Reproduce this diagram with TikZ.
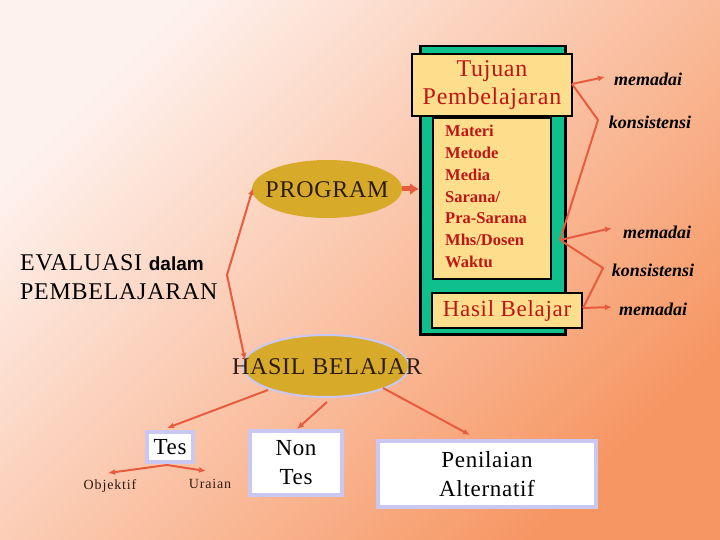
\documentclass[tikz,border=0pt]{standalone}
\usepackage{fontspec}
\setmainfont{Liberation Serif}
\setsansfont{Liberation Sans}
\newfontfamily\tms[LetterSpace=3]{Liberation Serif}
\newfontfamily\tmsw[LetterSpace=6]{Liberation Serif}
\usetikzlibrary{shapes.geometric,arrows.meta}
\definecolor{bglight}{RGB}{254,242,238}
\definecolor{bgdark}{RGB}{246,150,98}
\definecolor{boxgreen}{RGB}{16,192,140}
\definecolor{boxyellow}{RGB}{253,222,140}
\definecolor{txtred}{RGB}{190,22,22}
\definecolor{gold}{RGB}{216,170,42}
\definecolor{conred}{RGB}{232,92,62}
\definecolor{lav}{RGB}{200,200,242}
\definecolor{darktxt}{RGB}{45,28,20}
\tikzset{
  yelbox/.style={draw=black, fill=boxyellow, inner sep=0pt},
  whitebox/.style={draw=lav, line width=3.5bp, fill=white, inner sep=0pt, align=center, font=\tms\fontsize{23bp}{29bp}\selectfont},
  goldell/.style={ellipse, fill=gold, inner sep=0pt},
  con/.style={draw=conred, line width=2bp, line join=round},
  conarr/.style={con, -{Latex[length=7bp,width=6bp]}},
  scripttxt/.style={font=\fontsize{18bp}{20bp}\selectfont\bfseries\itshape, text=black, inner sep=0pt},
  bigtxt/.style={font=\tms\fontsize{24bp}{28bp}\selectfont, inner sep=0pt}
}
\begin{document}
\begin{tikzpicture}[x=1bp,y=-1bp]
\useasboundingbox (0,0) rectangle (720,540);
\shade[top color=bglight, bottom color=bgdark, shading angle=45] (0,0) rectangle (720,540);

% green column
\node[draw=black, line width=2.5bp, fill=boxgreen, minimum width=145bp, minimum height=288bp, anchor=north west, inner sep=0pt] (green) at (419,45) {};
\node[yelbox, line width=1.2bp, minimum width=160bp, minimum height=62bp, align=center, text=txtred, font=\tms\fontsize{24bp}{28bp}\selectfont] (tujuan) at (492,85) {Tujuan\\Pembelajaran};
\node[yelbox, line width=2bp, minimum width=118bp, minimum height=161bp] (materi) at (492,198.5) {};
\node[anchor=north west, inner sep=0pt, align=left, text=txtred, font=\fontsize{16.5bp}{21.8bp}\selectfont\bfseries] (materitxt) at (445,125) {Materi\\Metode\\Media\\Sarana/\\Pra-Sarana\\Mhs/Dosen\\Waktu};
\node[yelbox, line width=1.5bp, minimum width=150bp, minimum height=35bp, text=txtred, font=\tms\fontsize{23bp}{26bp}\selectfont] (hasil) at (507,310.5) {Hasil Belajar};

% ellipses
\node[goldell, minimum width=150bp, minimum height=58bp] (program) at (327,189) {};
\node[bigtxt, text=darktxt] (prgtxt) at (327,190) {PROGRAM};
\node[goldell, draw=lav, line width=2bp, minimum width=166bp, minimum height=62bp] (hbell) at (326,366) {};
\node[bigtxt, text=darktxt] (hbtxt) at (327,367) {HASIL BELAJAR};

% evaluasi text
\node[anchor=west, align=left, inner sep=0pt, text=black, font=\tms\fontsize{24bp}{29bp}\selectfont] (eval) at (20,277) {EVALUASI {\sffamily\bfseries\fontsize{19bp}{29bp}\selectfont dalam}\\PEMBELAJARAN};

% bottom boxes
\node[whitebox, minimum width=46bp, minimum height=30bp] (tes) at (170,447) {Tes};
\node[whitebox, minimum width=92bp, minimum height=64bp] (nontes) at (296,463) {Non\\Tes};
\node[whitebox, minimum width=218bp, minimum height=66bp] (penilaian) at (487,474) {Penilaian\\Alternatif};
\node[inner sep=0pt, text=darktxt, font=\tmsw\fontsize{14bp}{16bp}\selectfont] (objektif) at (110,486) {Objektif};
\node[inner sep=0pt, text=darktxt, font=\tmsw\fontsize{14bp}{16bp}\selectfont] (uraian) at (210,484) {Uraian};

% right texts
\node[scripttxt] (mem1) at (648,79) {memadai};
\node[scripttxt] (kon1) at (650,122) {konsistensi};
\node[scripttxt] (mem2) at (657,232) {memadai};
\node[scripttxt] (kon2) at (653,270) {konsistensi};
\node[scripttxt] (mem3) at (653,309) {memadai};

% coordinates
\coordinate (ev) at (227,275);
\coordinate (prgin) at (253,188);
\coordinate (hbin) at (245,360);
\coordinate (tj) at (572,84);
\coordinate (m1) at (605,77);
\coordinate (k1) at (598,120);
\coordinate (mt) at (560,240);
\coordinate (m2) at (612,228);
\coordinate (k2) at (603,268);
\coordinate (hs) at (583,308);
\coordinate (m3) at (612,307);
\coordinate (hb1) at (268,390);
\coordinate (hb2) at (327,402);
\coordinate (hb3) at (383,388);
\coordinate (tesin) at (167,428);
\coordinate (ntin) at (297,429);
\coordinate (pnin) at (470,435);
\coordinate (tesout) at (167,465);
\coordinate (objin) at (108,473);
\coordinate (urin) at (206,471);

% connectors
\draw[draw=conred, line width=5bp, -{Latex[length=9bp,width=12bp]}] (program.east) -- (green.west |- program.east);
\draw[conarr] (ev) -- (prgin);
\draw[conarr] (ev) -- (hbin);
\draw[conarr] (tj) -- (m1);
\draw[con] (tj) -- (k1) -- (mt);
\draw[conarr] (mt) -- (m2);
\draw[con] (mt) -- (k2) -- (hs);
\draw[conarr] (hs) -- (m3);
\draw[conarr] (hb1) -- (tesin);
\draw[conarr] (hb2) -- (ntin);
\draw[conarr] (hb3) -- (pnin);
\draw[conarr] (tesout) -- (objin);
\draw[conarr] (tesout) -- (urin);
\end{tikzpicture}
\end{document}
